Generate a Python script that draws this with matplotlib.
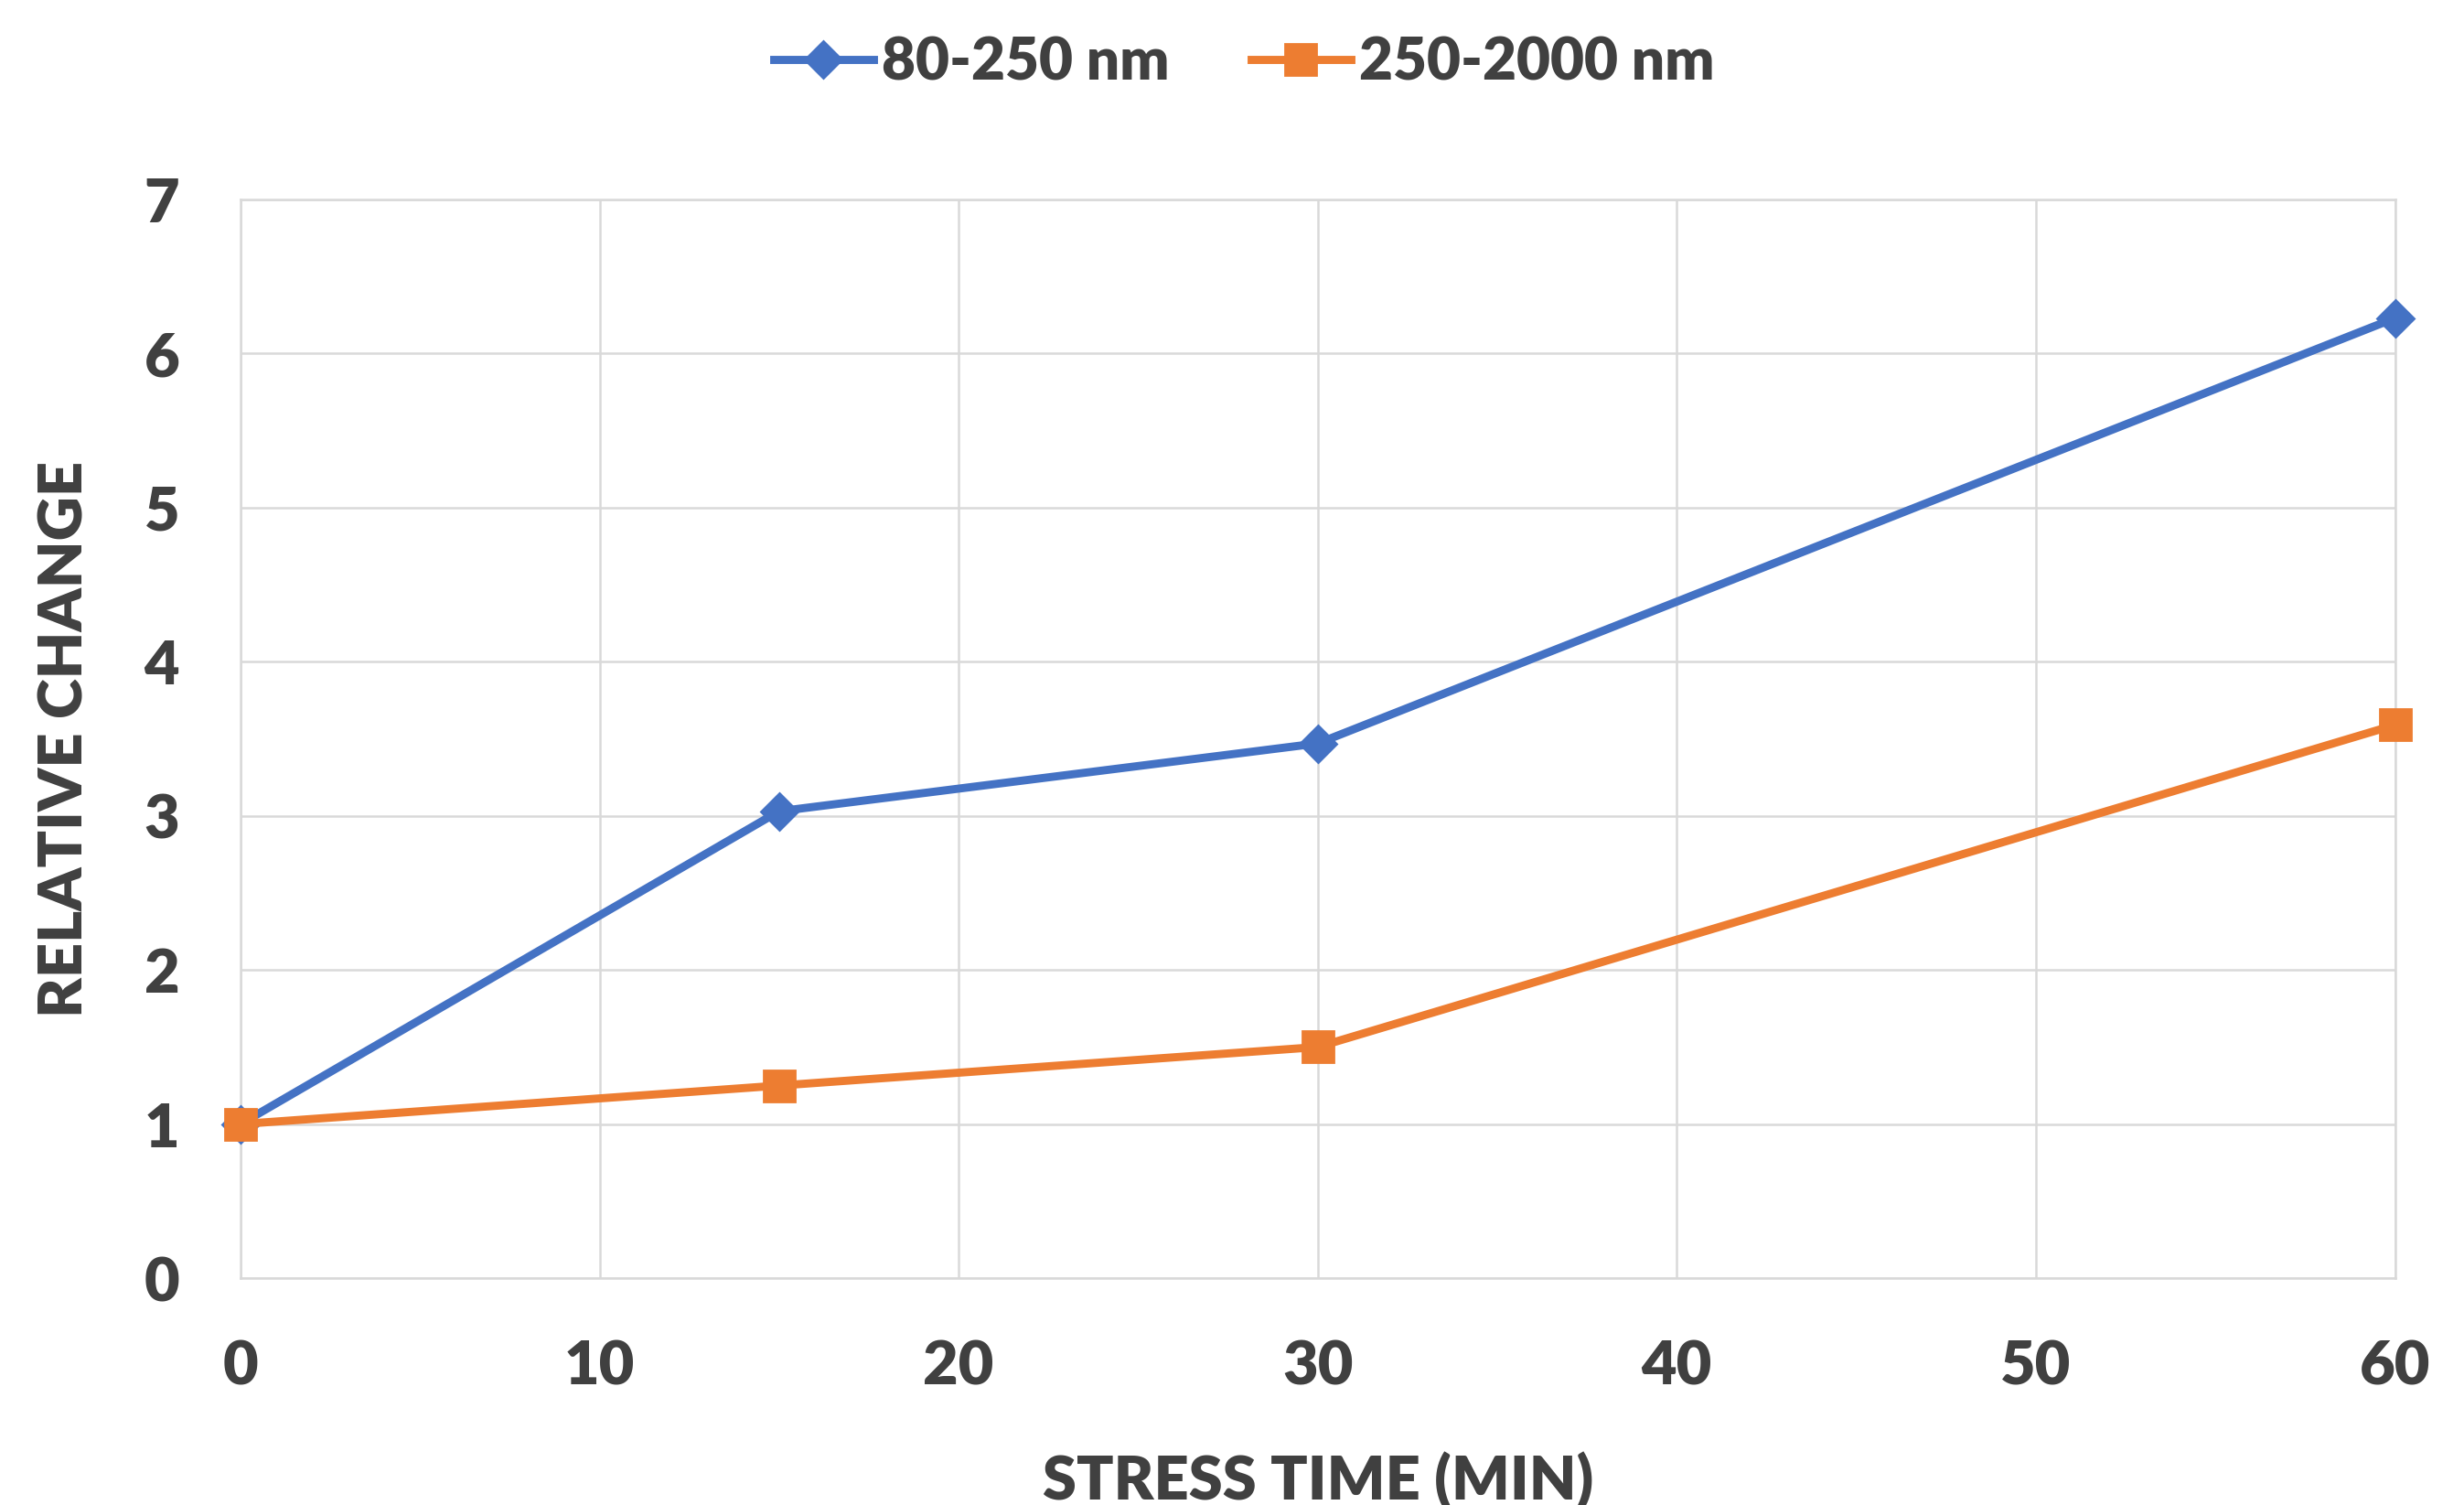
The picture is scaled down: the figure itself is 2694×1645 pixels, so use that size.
import matplotlib
matplotlib.use('Agg')
import matplotlib.pyplot as plt

# data
stress_time = [0, 15, 30, 60]
small_particles = [1.0, 3.03, 3.47, 6.23]   # 80-250 nm
large_particles = [1.0, 1.25, 1.50, 3.59]   # 250-2000 nm
series_labels = ['80-250 nm', '250-2000 nm']
x_ticks = [0, 10, 20, 30, 40, 50, 60]
y_ticks = [0, 1, 2, 3, 4, 5, 6, 7]

plt.rcParams['font.family'] = ['Lato', 'DejaVu Sans']
plt.rcParams['font.weight'] = 'heavy'
plt.rcParams['axes.labelweight'] = 'heavy'
text_color = '#404040'
grid_color = '#D9D9D9'

fig = plt.figure(figsize=(13.47, 8.225), dpi=200)
ax = fig.add_axes([0.0976, 0.1507, 0.8744, 0.7168])

ax.plot(stress_time, small_particles, color='#4472C4', linewidth=3.2,
        marker='D', markersize=10, label=series_labels[0], clip_on=False, zorder=3)
ax.plot(stress_time, large_particles, color='#ED7D31', linewidth=3.2,
        marker='s', markersize=12, label=series_labels[1], clip_on=False, zorder=3)

ax.set_xlim(0, 60)
ax.set_ylim(0, 7)
ax.set_xticks(x_ticks)
ax.set_yticks(y_ticks)
ax.grid(True, color=grid_color, linewidth=0.9)
ax.set_axisbelow(True)
for s in ax.spines.values():
    s.set_color(grid_color)
    s.set_linewidth(0.9)
ax.tick_params(length=0, labelsize=24, labelcolor=text_color)
ax.tick_params(axis='x', pad=24)
ax.tick_params(axis='y', pad=24)

ax.set_xlabel('STRESS TIME (MIN)', fontsize=24, fontweight='heavy', color=text_color, labelpad=22)
ax.set_ylabel('RELATIVE CHANGE', fontsize=24, fontweight='heavy', color=text_color, labelpad=20)

fig.legend(loc='center', bbox_to_anchor=(0.505, 0.958), ncol=2, frameon=False,
           fontsize=23, labelcolor=text_color, handlelength=1.7, columnspacing=1.4,
           handletextpad=0.15)

fig.savefig('out.png', dpi=200, facecolor='white')
